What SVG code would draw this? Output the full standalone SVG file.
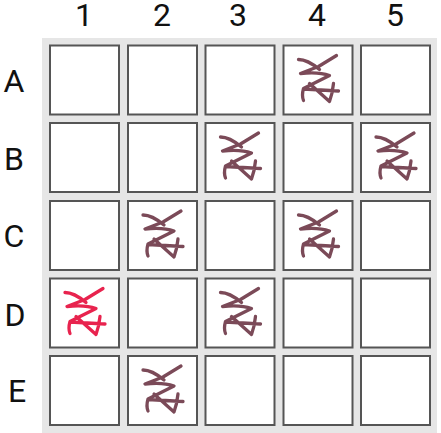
<svg xmlns="http://www.w3.org/2000/svg" width="441" height="433" viewBox="0 0 441 433">
<style>
text{font-family:Roboto,"Liberation Sans",sans-serif;font-size:32px;fill:#111;text-anchor:middle}
.c{fill:#fff;stroke:#555;stroke-width:2}
.g{fill:none;stroke:#7b4a58;stroke-width:3.300;stroke-linecap:round;stroke-linejoin:round}
.r{stroke:#e8234e}
</style>
<defs>
<g id="sc"><path d="M15 14Q24 14 36 24M53 10L35 21L17 28Q35 26 46 30L20 43Q18 50 20 55M20 43.500L55 45.500M26 38L46 56Q49 48 50 38"/></g>
</defs>
<rect x="42" y="38" width="395" height="395" fill="#e6e6e6"/>
<g id="cells">
<rect class="c" x="50" y="45.500" width="69" height="69"/><rect class="c" x="128" y="45.500" width="69" height="69"/><rect class="c" x="205.500" y="45.500" width="69" height="69"/><rect class="c" x="283.500" y="45.500" width="69" height="69"/><rect class="c" x="361" y="45.500" width="69" height="69"/>
<rect class="c" x="50" y="123" width="69" height="69"/><rect class="c" x="128" y="123" width="69" height="69"/><rect class="c" x="205.500" y="123" width="69" height="69"/><rect class="c" x="283.500" y="123" width="69" height="69"/><rect class="c" x="361" y="123" width="69" height="69"/>
<rect class="c" x="50" y="201" width="69" height="69"/><rect class="c" x="128" y="201" width="69" height="69"/><rect class="c" x="205.500" y="201" width="69" height="69"/><rect class="c" x="283.500" y="201" width="69" height="69"/><rect class="c" x="361" y="201" width="69" height="69"/>
<rect class="c" x="50" y="278.500" width="69" height="69"/><rect class="c" x="128" y="278.500" width="69" height="69"/><rect class="c" x="205.500" y="278.500" width="69" height="69"/><rect class="c" x="283.500" y="278.500" width="69" height="69"/><rect class="c" x="361" y="278.500" width="69" height="69"/>
<rect class="c" x="50" y="356" width="69" height="69"/><rect class="c" x="128" y="356" width="69" height="69"/><rect class="c" x="205.500" y="356" width="69" height="69"/><rect class="c" x="283.500" y="356" width="69" height="69"/><rect class="c" x="361" y="356" width="69" height="69"/>
</g>
<g id="glyphs">
<use class="g" href="#sc" x="283.500" y="45.500"/>
<use class="g" href="#sc" x="205.500" y="123"/><use class="g" href="#sc" x="361" y="123"/>
<use class="g" href="#sc" x="128" y="201"/><use class="g" href="#sc" x="283.500" y="201"/>
<use class="g r" href="#sc" x="50" y="278.500"/><use class="g" href="#sc" x="205.500" y="278.500"/>
<use class="g" href="#sc" x="128" y="356"/>
</g>
<g id="labels">
<text x="84" y="26">1</text><text x="162" y="26">2</text><text x="238" y="26">3</text><text x="317" y="26">4</text><text x="395" y="26">5</text>
<text x="14" y="92">A</text><text x="14" y="170">B</text><text x="14" y="247">C</text><text x="15" y="326">D</text><text x="17" y="402">E</text>
</g>
</svg>
